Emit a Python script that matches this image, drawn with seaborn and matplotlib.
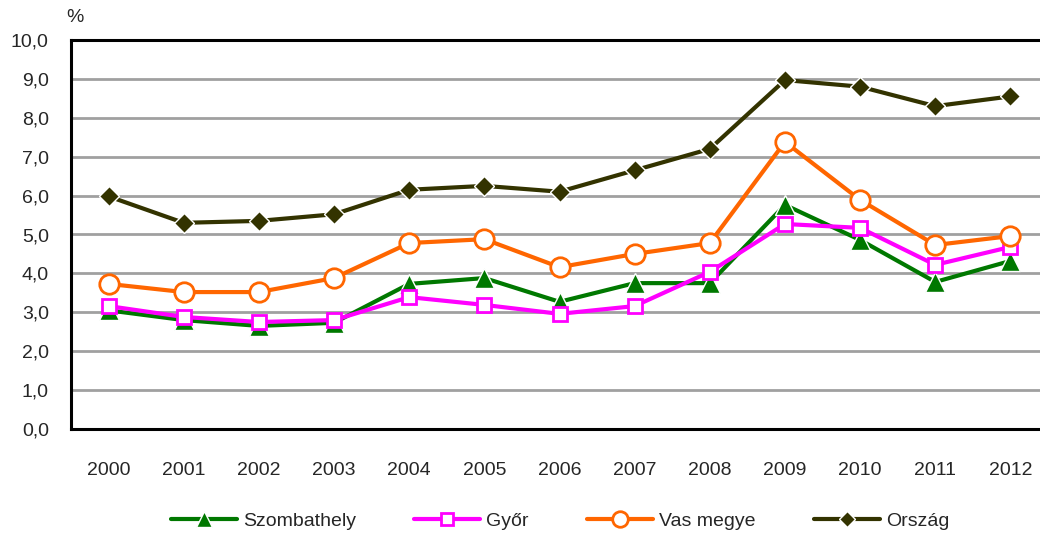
import matplotlib
matplotlib.use("Agg")
import matplotlib.pyplot as plt
import seaborn as sns
import pandas as pd

years = [2000, 2001, 2002, 2003, 2004, 2005, 2006, 2007, 2008, 2009, 2010, 2011, 2012]
szombathely = [3.05, 2.80, 2.65, 2.73, 3.73, 3.88, 3.27, 3.75, 3.75, 5.76, 4.86, 3.78, 4.32]
gyor = [3.16, 2.88, 2.75, 2.80, 3.39, 3.19, 2.96, 3.16, 4.04, 5.27, 5.17, 4.22, 4.68]
vas_megye = [3.73, 3.52, 3.52, 3.88, 4.78, 4.88, 4.16, 4.50, 4.78, 7.38, 5.89, 4.73, 4.96]
orszag = [5.98, 5.30, 5.35, 5.52, 6.15, 6.25, 6.10, 6.65, 7.20, 8.97, 8.80, 8.30, 8.55]
series_names = ["Szombathely", "Győr", "Vas megye", "Ország"]
y_ticks = [0, 1, 2, 3, 4, 5, 6, 7, 8, 9, 10]

sns.set_theme(style="white")
plt.rcParams["font.family"] = ["Liberation Sans", "DejaVu Sans"]

fig = plt.figure(figsize=(10.4, 5.36), dpi=100)
W, H = 1040, 536
ax = fig.add_axes([71 / W, (H - 429) / H, 977 / W, 389 / H])

styles = {
    "Szombathely": dict(color="#007800", marker="^", markersize=14,
                        markerfacecolor="#007800", markeredgecolor="white",
                        markeredgewidth=1.0),
    "Győr": dict(color="#FF00FF", marker="s", markersize=10,
                 markerfacecolor="white", markeredgecolor="#FF00FF",
                 markeredgewidth=2.0),
    "Vas megye": dict(color="#FF6600", marker="o", markersize=14,
                      markerfacecolor="white", markeredgecolor="#FF6600",
                      markeredgewidth=2.0),
    "Ország": dict(color="#333300", marker="D", markersize=10,
                   markerfacecolor="#333300", markeredgecolor="white",
                   markeredgewidth=1.0),
}

values = [szombathely, gyor, vas_megye, orszag]
frames = []
for name, vals in zip(series_names, values):
    frames.append(pd.DataFrame({"Év": years, "Érték": vals, "Sorozat": name}))
df = pd.concat(frames, ignore_index=True)

for i, name in enumerate(series_names):
    sub = df[df["Sorozat"] == name]
    sns.lineplot(data=sub, x="Év", y="Érték", ax=ax, label=name,
                 linewidth=3.0, zorder=3 + i, **styles[name])

ax.set_xlim(1999.5, 2012.5)
ax.set_ylim(0, 10)
ax.set_xticks(years)
ax.set_xticklabels([str(y) for y in years], fontsize=14)
ax.set_yticks(y_ticks)
ax.set_yticklabels([f"{v:.1f}".replace(".", ",") for v in y_ticks], fontsize=14)
ax.tick_params(axis="y", length=0, pad=16)
ax.tick_params(axis="x", length=0, pad=24)
ax.set_xlabel("")
ax.set_ylabel("")

ax.grid(axis="y", color="#a0a0a0", linewidth=2.0)
ax.grid(axis="x", visible=False)
ax.set_axisbelow(True)
for side in ["left", "bottom", "top"]:
    ax.spines[side].set_color("black")
    ax.spines[side].set_linewidth(2.2)
ax.spines["right"].set_visible(False)

fig.text(75 / W, 1 - 18 / H, "%", fontsize=14, ha="center", va="center")

leg = ax.legend(loc="center", bbox_to_anchor=(560 / W, 1 - 521 / H),
                bbox_transform=fig.transFigure, ncol=4, frameon=False,
                fontsize=14, handlelength=3.4, handletextpad=0.3,
                columnspacing=3.0, borderaxespad=0)
for handle in leg.legend_handles:
    handle.set_markersize(handle.get_markersize() * 0.8)

fig.savefig("out.png", dpi=100)
